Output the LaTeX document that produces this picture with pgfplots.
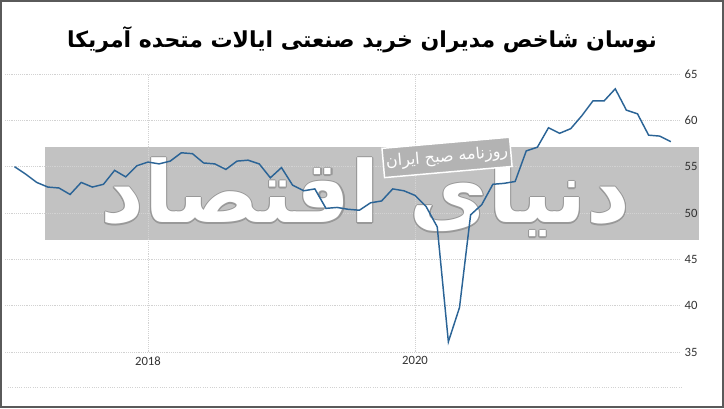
\documentclass[border=0pt]{standalone}
\usepackage{pgfplots}
\pgfplotsset{compat=1.18}
\usepackage{pgfplotstable}
\usepackage{fontspec}
\usepackage{contour}
\setmainfont{Carlito}
\newfontfamily\arabicfont[Script=Arabic]{DejaVu Sans}
\TeXXeTstate=1
\definecolor{pmiblue}{HTML}{2B6496}
\definecolor{bandgray}{HTML}{C2C2C2}
\definecolor{boxgray}{HTML}{B3B3B3}
\definecolor{gridgray}{HTML}{D2D2D2}
\definecolor{framegray}{HTML}{5A5A5A}
\contourlength{0.8pt}
\contournumber{10}

% US manufacturing PMI, month index 0 = Jan 2017
\pgfplotstableread{
m v
0 55.0
1 54.2
2 53.3
3 52.8
4 52.7
5 52.0
6 53.3
7 52.8
8 53.1
9 54.6
10 53.9
11 55.1
12 55.5
13 55.3
14 55.6
15 56.5
16 56.4
17 55.4
18 55.3
19 54.7
20 55.6
21 55.7
22 55.3
23 53.8
24 54.9
25 53.0
26 52.4
27 52.6
28 50.5
29 50.6
30 50.4
31 50.3
32 51.1
33 51.3
34 52.6
35 52.4
36 51.9
37 50.7
38 48.5
39 36.1
40 39.8
41 49.8
42 50.9
43 53.1
44 53.2
45 53.4
46 56.7
47 57.1
48 59.2
49 58.6
50 59.1
51 60.5
52 62.1
53 62.1
54 63.4
55 61.1
56 60.7
57 58.4
58 58.3
59 57.7
}\pmidata

\begin{document}
\begin{tikzpicture}
\useasboundingbox (0,0) rectangle (543pt,306pt);
\draw[framegray, line width=1.5pt] (0.75pt,0.75pt) rectangle (542.25pt,305.25pt);

\node[font=\arabicfont\bfseries\fontsize{16.5}{20}\selectfont] at (271.5pt,276pt)
  {\beginR نوسان شاخص مدیران خرید صنعتی ایالات متحده آمریکا\endR};

% watermark band, drawn first so grid and tick labels lie over it
\fill[bandgray] (33.75pt,126pt) rectangle (524.25pt,195.75pt);

\begin{axis}[
  at={(3.75pt,42pt)}, anchor=south west,
  scale only axis, width=506.25pt, height=208.5pt,
  xmin=2016.929, xmax=2021.985, ymin=35, ymax=65,
  clip=false,
  axis line style={draw=none},
  major tick length=0pt,
  xtick={2018,2020}, xticklabels={2018,2020},
  ytick={35,40,...,65},
  yticklabel pos=right,
  grid=major,
  major grid style={gridgray, densely dotted, line width=0.7pt},
  tick label style={font=\fontsize{9.5}{11}\selectfont, text=black!80},
  /pgf/number format/assume math mode=true,
]
  \node[font=\arabicfont\bfseries\fontsize{64}{64}\selectfont, text=white]
    at (axis cs:2019.63,51.6) {\contour{gray!80}{\beginR دنیای اقتصاد\endR}};
  \node[rotate=5, fill=boxgray, draw=white, line width=1.1pt, text=white,
        font=\arabicfont\fontsize{12}{14}\selectfont,
        minimum width=96pt, minimum height=22pt, inner sep=2pt]
    at (axis cs:2020.24,56.0) {\beginR روزنامه صبح ایران\endR};
  % lower rule below the year labels
  \draw[gridgray, densely dotted, line width=0.7pt]
    (axis cs:2016.95,31.2) -- (axis cs:2022.0,31.2);

  \addplot[pmiblue, line width=1.1pt] table[x expr=2017+\thisrow{m}/12, y=v] {\pmidata};
\end{axis}
\end{tikzpicture}
\end{document}
